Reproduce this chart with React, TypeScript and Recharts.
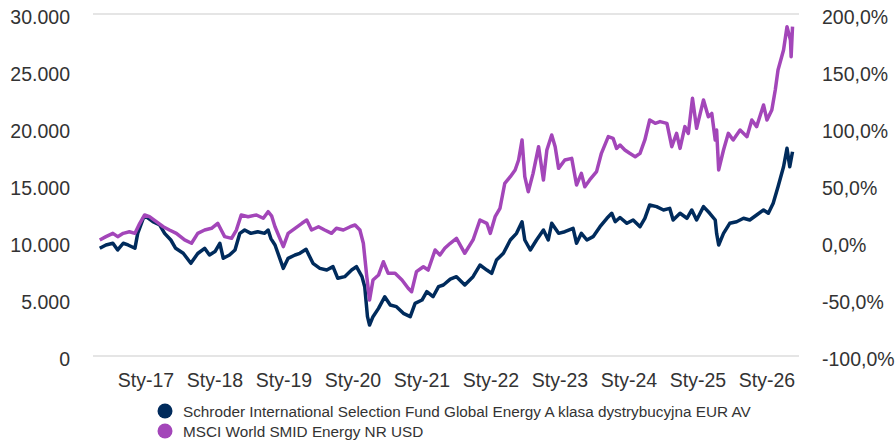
import { LineChart, Line, XAxis, YAxis, CartesianGrid } from 'recharts';

// fund value of 10 000 invested (time in decimal years)
const fundYears = [
  2016.33, 2016.42, 2016.52, 2016.59, 2016.67, 2016.74, 2016.84, 2016.88, 2016.96,
  2017.0, 2017.1, 2017.2, 2017.27, 2017.36, 2017.43, 2017.54, 2017.65, 2017.75, 2017.85, 2017.92,
  2018.0, 2018.07, 2018.12, 2018.21, 2018.29, 2018.36, 2018.43, 2018.52, 2018.62, 2018.72, 2018.77, 2018.81, 2018.87, 2018.99,
  2019.06, 2019.16, 2019.23, 2019.32, 2019.42, 2019.52, 2019.62, 2019.71, 2019.78, 2019.88, 2019.98,
  2020.05, 2020.13, 2020.17, 2020.21, 2020.24, 2020.29, 2020.37, 2020.46, 2020.54, 2020.63, 2020.73, 2020.83, 2020.9,
  2021.0, 2021.07, 2021.16, 2021.24, 2021.31, 2021.41, 2021.5, 2021.62, 2021.74, 2021.84, 2021.94,
  2022.01, 2022.08, 2022.18, 2022.28, 2022.37, 2022.45, 2022.49, 2022.57, 2022.66, 2022.76, 2022.83, 2022.88, 2022.98,
  2023.07, 2023.19, 2023.24, 2023.31, 2023.39, 2023.48, 2023.58, 2023.68, 2023.75, 2023.8, 2023.87, 2023.97,
  2024.06, 2024.16, 2024.23, 2024.3, 2024.4, 2024.5, 2024.59, 2024.64, 2024.74, 2024.84, 2024.91, 2024.98,
  2025.08, 2025.17, 2025.25, 2025.27, 2025.3, 2025.37, 2025.46, 2025.56, 2025.66, 2025.75, 2025.85, 2025.95,
  2026.02, 2026.09, 2026.16, 2026.24, 2026.29, 2026.33, 2026.37,
];
const fundValues = [
  9450, 9740, 9890, 9300, 9890, 9740, 9450, 10760, 12080,
  12220, 11780, 11490, 10760, 10175, 9450, 9010, 8130, 8990, 9450, 8860,
  9160, 9890, 8570, 8860, 9300, 10760, 11050, 10760, 10900, 10760, 11050, 10300, 9740, 7690,
  8570, 8860, 9010, 9360, 8130, 7690, 7540, 7840, 6815, 6960, 7540,
  7840, 6960, 6080, 3450, 2720, 3450, 4180, 5200, 4470, 4330, 3740, 3450, 4620,
  4910, 5640, 5200, 6080, 6230, 6740, 6960, 6230, 6960, 7980, 7540,
  7250, 8420, 9010, 10175, 10760, 11780, 10175, 9300, 10175, 11050, 10175, 11640, 10760,
  10900, 11200, 9890, 10760, 10175, 10470, 11340, 12080, 12520, 11780, 12150, 11640,
  11930, 11340, 12080, 13250, 13100, 12810, 12950, 11930, 12520, 12080, 12810, 11930,
  13100, 12520, 11930, 10760, 9740, 10760, 11640, 11780, 12080, 11930, 12370, 12810,
  12520, 13400, 14850, 16600, 18220, 16600, 17920,
];

// benchmark, cumulative return in %
const indexYears = [
  2016.33, 2016.42, 2016.52, 2016.59, 2016.67, 2016.76, 2016.84, 2016.91, 2016.98,
  2017.05, 2017.15, 2017.25, 2017.34, 2017.44, 2017.56, 2017.66, 2017.75, 2017.85, 2017.95,
  2018.04, 2018.09, 2018.14, 2018.24, 2018.31, 2018.38, 2018.48, 2018.6, 2018.7, 2018.77, 2018.82, 2018.87, 2018.99,
  2019.06, 2019.16, 2019.26, 2019.33, 2019.4, 2019.5, 2019.59, 2019.69, 2019.76, 2019.86, 2019.96,
  2020.03, 2020.1, 2020.15, 2020.2, 2020.24, 2020.29, 2020.37, 2020.44, 2020.51, 2020.61, 2020.71, 2020.8, 2020.85, 2020.92,
  2021.02, 2021.09, 2021.19, 2021.26, 2021.33, 2021.41, 2021.5, 2021.62, 2021.74, 2021.84, 2021.94, 2021.99,
  2022.06, 2022.13, 2022.2, 2022.28, 2022.35, 2022.4, 2022.45, 2022.49, 2022.54, 2022.61, 2022.69, 2022.76, 2022.81, 2022.88, 2022.93, 2022.98,
  2023.07, 2023.17, 2023.24, 2023.31, 2023.36, 2023.43, 2023.53, 2023.6, 2023.7, 2023.77, 2023.82, 2023.87, 2023.94,
  2024.01, 2024.09, 2024.16, 2024.23, 2024.3, 2024.38, 2024.45, 2024.55, 2024.62, 2024.69, 2024.74, 2024.81, 2024.86, 2024.92, 2024.98,
  2025.08, 2025.15, 2025.2, 2025.25, 2025.27, 2025.3, 2025.37, 2025.44, 2025.51, 2025.61, 2025.71, 2025.78, 2025.85, 2025.95,
  2026.0, 2026.07, 2026.12, 2026.16, 2026.24, 2026.29, 2026.34, 2026.35, 2026.37,
];
const indexPct = [
  1.8, 4.7, 7.6, 4.7, 7.6, 9.0, 7.6, 16.4, 23.7,
  22.2, 17.8, 13.4, 10.5, 7.6, 1.8, -1.1, 7.6, 10.5, 12.0,
  16.4, 10.5, 4.7, 3.2, 10.5, 23.7, 22.2, 23.7, 20.8, 26.6, 23.0, 13.4, -4.1,
  7.6, 12.0, 16.4, 19.3, 10.5, 13.4, 10.5, 7.6, 12.0, 10.5, 13.4,
  14.9, 10.5, -1.1, -30.4, -50.9, -33.3, -29.0, -17.3, -27.5, -27.5, -33.3, -40.6, -43.6, -26.0,
  -21.7, -24.6, -7.0, -11.4, -5.5, -1.1, 3.2, -9.9, 1.8, 19.3, 16.4, 7.6,
  22.2, 29.5, 51.5, 57.3, 63.2, 71.9, 89.5, 57.3, 44.1, 60.2, 83.6, 54.4, 80.7, 93.9, 83.6, 64.6,
  71.9, 73.4, 50.0, 60.2, 48.5, 54.4, 61.7, 77.8, 92.4, 90.9, 82.1, 85.0, 80.7,
  77.8, 74.8, 77.8, 89.5, 107.0, 104.1, 105.6, 104.1, 83.6, 95.3, 82.1, 101.2, 95.3, 126.0, 99.7,
  124.6, 109.9, 112.8, 89.5, 98.2, 63.2, 80.7, 95.3, 89.5, 98.2, 92.4, 107.0, 101.2, 120.2,
  107.0, 115.8, 133.3, 150.9, 168.4, 188.9, 177.2, 162.6, 188.9,
];

const yearTicks = [2017, 2018, 2019, 2020, 2021, 2022, 2023, 2024, 2025, 2026];
const valueTicks = [0, 5000, 10000, 15000, 20000, 25000, 30000];
const pctTicks = [-100, -50, 0, 50, 100, 150, 200];

const fundName = 'Schroder International Selection Fund Global Energy A klasa dystrybucyjna EUR AV';
const indexName = 'MSCI World SMID Energy NR USD';

const NAVY = '#002B5C';
const PURPLE = '#A346B9';
const FONT = '"Liberation Sans", Arial, sans-serif';
const TEXT = '#333333';

const fundData = fundYears.map((t, i) => ({ t, v: fundValues[i] }));
const indexData = indexYears.map((t, i) => ({ t, v: indexPct[i] }));

const fmtValue = (v: number) => (v === 0 ? '0' : v.toLocaleString('de-DE'));
const fmtPct = (v: number) => `${v.toFixed(1).replace('.', ',')}%`;
const fmtYear = (v: number) => `Sty-${String(v).slice(2)}`;

const tickStyle = { fill: TEXT, fontSize: 19.5, fontFamily: FONT };

export default function App() {
  return (
    <div style={{ position: 'absolute', left: 0, top: 0, width: 895, height: 442, background: '#fff' }}>
      <LineChart width={895} height={400} margin={{ top: 14, right: 0, bottom: 0, left: 0 }}>
        <CartesianGrid vertical={false} stroke="#dddddd" strokeWidth={1.5} />
        <XAxis
          dataKey="t"
          type="number"
          domain={[2016.232, 2026.464]}
          ticks={yearTicks}
          tickFormatter={fmtYear}
          axisLine={false}
          tickLine={false}
          tickSize={0}
          tickMargin={17}
          height={44}
          tick={tickStyle}
          allowDuplicatedCategory={false}
        />
        <YAxis
          yAxisId="val"
          domain={[0, 30000]}
          ticks={valueTicks}
          tickFormatter={fmtValue}
          axisLine={false}
          tickLine={false}
          tickSize={0}
          tickMargin={23}
          width={93}
          tick={{ ...tickStyle, dy: 3 }}
        />
        <YAxis
          yAxisId="pct"
          orientation="right"
          domain={[-100, 200]}
          ticks={pctTicks}
          tickFormatter={fmtPct}
          axisLine={false}
          tickLine={false}
          tickSize={0}
          tickMargin={23}
          width={96}
          tick={{ ...tickStyle, dy: 3 }}
        />
        <Line
          yAxisId="val"
          data={fundData}
          dataKey="v"
          type="linear"
          stroke={NAVY}
          strokeWidth={3.5}
          strokeLinejoin="round"
          dot={false}
          isAnimationActive={false}
        />
        <Line
          yAxisId="pct"
          data={indexData}
          dataKey="v"
          type="linear"
          stroke={PURPLE}
          strokeWidth={3.5}
          strokeLinejoin="round"
          dot={false}
          isAnimationActive={false}
        />
      </LineChart>
      <svg width={895} height={50} style={{ position: 'absolute', left: 0, top: 392 }}>
        <circle cx={165} cy={19} r={7.5} fill={NAVY} />
        <text x={183} y={19} dominantBaseline="central" fontSize={15.3} fontFamily={FONT} fill={TEXT}>
          {fundName}
        </text>
        <circle cx={165} cy={39} r={7.5} fill={PURPLE} />
        <text x={183} y={39} dominantBaseline="central" fontSize={15.3} fontFamily={FONT} fill={TEXT}>
          {indexName}
        </text>
      </svg>
    </div>
  );
}
